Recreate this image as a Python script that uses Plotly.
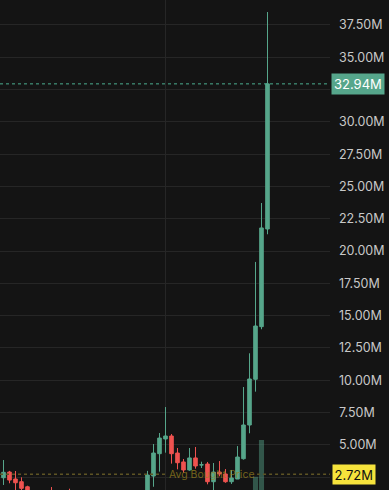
import plotly.graph_objects as go

idx = list(range(45))
opens = [2.46, 2.90, 2.36, 2.15, 1.76, 1.30, 1.15, 1.05, 1.20, 1.00,
         0.90, 0.95, 0.85, 0.80, 0.90, 0.85, 0.95, 0.90, 1.00, 0.95,
         1.05, 1.00, 1.10, 1.05, 1.20, 2.59, 4.32, 5.46, 5.69, 4.37,
         3.68, 3.06, 3.99, 3.45, 3.52, 2.15, 2.90, 2.75, 2.15, 2.36,
         3.93, 6.54, 10.08, 14.15, 21.71]
highs = [3.83, 2.99, 2.98, 2.49, 1.84, 1.40, 1.30, 1.45, 1.74, 1.20,
         1.10, 1.61, 1.00, 1.05, 1.10, 1.05, 1.15, 1.10, 1.20, 1.15,
         1.25, 1.20, 1.30, 1.35, 2.99, 5.07, 5.92, 7.93, 5.84, 4.76,
         3.91, 4.76, 4.84, 3.70, 3.68, 3.60, 3.75, 3.13, 3.06, 4.91,
         9.48, 12.09, 19.16, 23.72, 38.50]
lows = [1.90, 2.03, 1.30, 1.40, 1.20, 1.05, 0.95, 0.90, 0.95, 0.80,
        0.75, 0.80, 0.70, 0.72, 0.75, 0.78, 0.80, 0.82, 0.85, 0.85,
        0.90, 0.92, 0.95, 1.00, 1.00, 1.76, 2.93, 4.40, 3.55, 3.11,
        2.85, 3.00, 3.16, 3.21, 1.95, 1.40, 2.57, 2.07, 1.98, 2.36,
        3.86, 5.90, 9.12, 13.95, 21.30]
closes = [2.88, 2.28, 2.07, 1.64, 1.30, 1.15, 1.05, 1.20, 1.00, 0.90,
          0.85, 0.85, 0.80, 0.90, 0.85, 0.95, 0.90, 1.00, 0.95, 1.05,
          1.00, 1.10, 1.05, 1.20, 2.67, 4.37, 5.53, 5.69, 4.32, 3.62,
          3.06, 3.99, 3.37, 3.46, 2.15, 2.90, 2.75, 2.15, 2.44, 4.06,
          6.54, 10.10, 14.20, 21.79, 32.94]
volumes = [0.6, 0.5, 0.7, 0.4, 0.5, 0.3, 0.3, 0.4, 0.4, 0.3,
           0.3, 0.4, 0.3, 0.3, 0.3, 0.3, 0.3, 0.3, 0.3, 0.3,
           0.3, 0.3, 0.3, 0.4, 0.9, 1.2, 1.0, 1.1, 0.8, 0.6,
           0.5, 0.6, 0.5, 0.4, 0.6, 0.5, 0.4, 0.4, 0.4, 0.8,
           1.4, 1.7, 2.27, 3.02, 1.9]
tick_vals = [2.5 * i for i in range(1, 16)]
hidden_ticks = [2.5, 32.5]  # covered by the price labels in the reference
tick_text = ["" if v in hidden_ticks else "%.2fM" % v for v in tick_vals]
last_price = 32.94
avg_price = 2.72

M = 1e6
GREEN = "#56a68b"
RED = "#ef5350"
BG = "#141414"
GRID = "#262626"
FONT = "Inter, Roboto, sans-serif"

fig = go.Figure()
fig.add_trace(go.Bar(
    x=idx, y=[v * M for v in volumes], yaxis="y2",
    marker=dict(color="rgba(86,166,139,0.45)", line=dict(width=0)),
    width=0.85, hoverinfo="skip", showlegend=False))
fig.add_trace(go.Candlestick(
    x=idx,
    open=[v * M for v in opens], high=[v * M for v in highs],
    low=[v * M for v in lows], close=[v * M for v in closes],
    increasing=dict(line=dict(color=GREEN, width=1), fillcolor=GREEN),
    decreasing=dict(line=dict(color=RED, width=1), fillcolor=RED),
    whiskerwidth=0, hoverinfo="skip", showlegend=False))

# last price dotted line
fig.add_shape(type="line", xref="paper", x0=0, x1=1, yref="y",
              y0=last_price * M, y1=last_price * M,
              line=dict(color="#4bae90", width=1, dash="dot"))
# avg bought price dotted line (two segments around the text)
for a, b in [(0, 0.509), (0.779, 1)]:
    fig.add_shape(type="line", xref="paper", x0=a, x1=b, yref="y",
                  y0=avg_price * M, y1=avg_price * M,
                  line=dict(color="#5e5424", width=1.5, dash="dot"))

fig.add_annotation(x=34.83, y=avg_price * M, xref="x", yref="y",
                   text="Avg Bought Price", showarrow=False,
                   font=dict(family=FONT, size=10.5,
                             color="rgba(150,128,30,0.75)"))
fig.add_annotation(x=1, y=last_price * M, xref="paper", yref="y",
                   xanchor="left", xshift=1, text="32.94M", showarrow=False,
                   bgcolor=GREEN, borderpad=2,
                   font=dict(family=FONT, size=13, color="#ffffff"))
fig.add_annotation(x=1, y=avg_price * M, xref="paper", yref="y",
                   xanchor="left", xshift=2, text="2.72M", showarrow=False,
                   bgcolor="#f6e33c", borderpad=1.5,
                   font=dict(family=FONT, size=13, color="#111111"))

fig.update_layout(
    width=389, height=490,
    margin=dict(l=0, r=59, t=0, b=0),
    paper_bgcolor=BG, plot_bgcolor=BG,
    showlegend=False,
    xaxis=dict(range=[-0.583, 54.417], rangeslider=dict(visible=False),
               showticklabels=False, tickvals=[27], showgrid=True,
               gridcolor=GRID, zeroline=False, fixedrange=True),
    yaxis=dict(side="right", range=[1.51 * M, 39.43 * M],
               tickvals=[v * M for v in tick_vals], ticktext=tick_text,
               gridcolor=GRID, zeroline=False, ticklabelstandoff=8,
               tickfont=dict(family=FONT, size=12.5, color="#c8c8c8")),
    yaxis2=dict(overlaying="y", range=[2.0 * M, 12.0 * M], visible=False,
                showgrid=False),
    boxgap=0.15,
)

fig.write_html("out.html")
